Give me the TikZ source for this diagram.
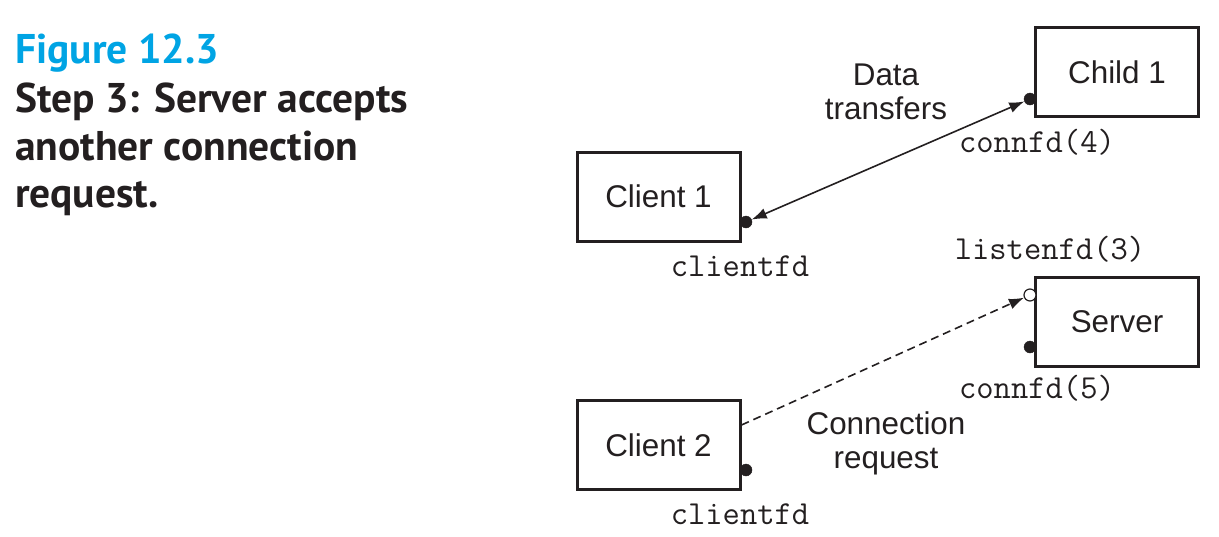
\documentclass[tikz,border=0pt]{standalone}
\usepackage{fontspec}
\setmainfont{Liberation Sans}
\newfontfamily\titlefont{PT Sans}
\usetikzlibrary{arrows.meta}
\definecolor{figcyan}{RGB}{0,164,228}
\definecolor{ink}{RGB}{35,31,32}
\tikzset{
  box/.style={draw=ink, line width=3pt, minimum width=163pt, minimum height=89pt, inner sep=0pt,
    font=\fontsize{31.4}{34}\selectfont, text=ink},
  fdlabel/.style={font=\ttfamily\fontsize{33.6}{34}\selectfont, text=ink, anchor=base, inner sep=0pt},
  lbl/.style={font=\fontsize{31.4}{34}\selectfont, text=ink, align=center, inner sep=0pt},
  dotfill/.style={circle, fill=ink, draw=ink, inner sep=0pt, minimum size=12pt},
  dotopen/.style={circle, fill=white, draw=ink, line width=1.2pt, inner sep=0pt, minimum size=12pt},
  tip/.style={-{Latex[length=15pt,width=11pt]}},
  conn/.style={draw=ink, line width=1.6pt},
  title/.style={anchor=base west, inner sep=0pt, font=\titlefont\bfseries\fontsize{41.5}{48}\selectfont}
}
\begin{document}
\begin{tikzpicture}[x=1pt,y=-1pt]
\useasboundingbox (0,0) rectangle (1219,536);
% title
\node[title, text=figcyan] (t1) at (15,63) {Figure 12.3};
\node[title, text=ink] (t2) at (15,112) {Step 3: Server accepts};
\node[title, text=ink] (t3) at (15,160) {another connection};
\node[title, text=ink] (t4) at (15,207) {request.};
% boxes
\node[box] (c1) at (658.5,196.5) {Client 1};
\node[box] (ch) at (1117,72) {Child 1};
\node[box] (sv) at (1117,321.5) {Server};
\node[box] (c2) at (658.5,445) {Client 2};
% descriptors
\node[dotfill] (d1) at (746,222) {};
\node[dotfill] (d2) at (1030,99) {};
\node[dotopen] (ls) at (1030,295) {};
\node[dotfill] (d5) at (1030,347) {};
\node[dotfill] (d6) at (746,470) {};
% fd labels
\node[fdlabel] (f1) at (740,276) {clientfd};
\node[fdlabel] (f2) at (1037,152) {connfd(4)};
\node[fdlabel] (f3) at (1050,259) {listenfd(3)};
\node[fdlabel] (f4) at (1037,398) {connfd(5)};
\node[fdlabel] (f5) at (740,524) {clientfd};
% connectors
\draw[conn, {Latex[length=15pt,width=11pt]}-{Latex[length=15pt,width=11pt]}] (d1) -- (d2);
\draw[conn, tip, dashed, dash pattern=on 8pt off 5pt] ([yshift=20pt]c2.east) -- (ls);
% connector labels
\node[lbl] (l1) at (886,92) {Data\\transfers};
\node[lbl] (l2) at (886,443) {Connection\\request};
\end{tikzpicture}
\end{document}
